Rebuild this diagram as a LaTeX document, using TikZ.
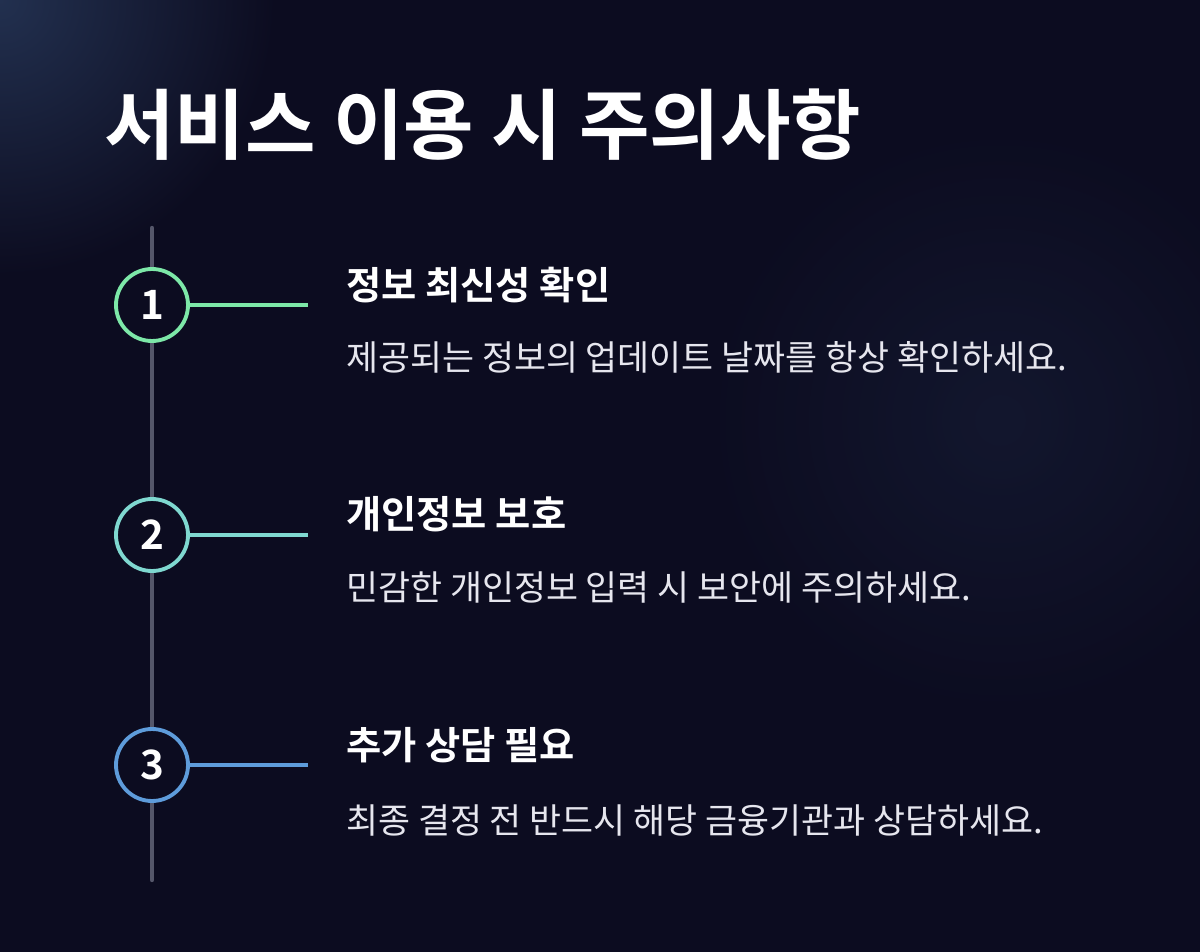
\documentclass[tikz,border=0pt]{standalone}
\usepackage{fontspec}
\setmainfont{Noto Sans CJK KR}
\newfontfamily\krbold{Noto Sans CJK KR Bold}
\usetikzlibrary{positioning}
\definecolor{bgdark}{HTML}{0C0C20}
\definecolor{bglight}{HTML}{22304F}
\definecolor{railgray}{HTML}{55576A}
\definecolor{stepgreen}{HTML}{7DE8A8}
\definecolor{stepteal}{HTML}{7FD8D0}
\definecolor{stepblue}{HTML}{5E9CDB}
\definecolor{desctext}{HTML}{E6E6EE}
\begin{document}
\begin{tikzpicture}[x=0.02cm, y=-0.02cm,
  stepcircle/.style = {circle, draw, line width=2.2pt, minimum size=72*0.02cm,
    inner sep=0pt, text=white, font=\krbold\fontsize{23}{26}\selectfont},
  stepline/.style = {line width=2pt},
  heading/.style = {anchor=west, text=white, font=\krbold\fontsize{21.8}{26}\selectfont},
  desc/.style = {anchor=west, text=desctext, font=\fontsize{19.8}{23}\selectfont}
]
  % background
  \useasboundingbox (0,0) rectangle (1200,952);
  \clip (0,0) rectangle (1200,952);
  \fill[bgdark] (0,0) rectangle (1200,952);
  \shade[inner color=bglight, outer color=bgdark] (0,0) circle (5.5cm);
  \shade[inner color=bglight!50!bgdark, outer color=bgdark, opacity=0.6] (1000,420) circle (6cm);

  % title
  \node[anchor=west, text=white, font=\krbold\fontsize{43.6}{50}\selectfont] (title) at (98,125) {서비스 이용 시 주의사항};

  % rail
  \coordinate (railtop) at (152,228);
  \coordinate (railbot) at (152,880);
  \draw[railgray, line width=2.5pt, line cap=round] (railtop) -- (railbot);

  % steps
  \node[stepcircle, draw=stepgreen, fill=bgdark] (one) at (152,305) {1};
  \node[stepcircle, draw=stepteal, fill=bgdark] (two) at (152,535) {2};
  \node[stepcircle, draw=stepblue, fill=bgdark] (three) at (152,765) {3};

  \coordinate (oneend) at (308,305);
  \coordinate (twoend) at (308,535);
  \coordinate (threeend) at (308,765);
  \draw[stepline, stepgreen] (one.east) -- (oneend);
  \draw[stepline, stepteal] (two.east) -- (twoend);
  \draw[stepline, stepblue] (three.east) -- (threeend);

  \node[heading] (onehead) at (340,285) {정보 최신성 확인};
  \node[desc] (onedesc) at (340,357) {제공되는 정보의 업데이트 날짜를 항상 확인하세요.};
  \node[heading] (twohead) at (340,514) {개인정보 보호};
  \node[desc] (twodesc) at (340,587) {민감한 개인정보 입력 시 보안에 주의하세요.};
  \node[heading] (threehead) at (340,745) {추가 상담 필요};
  \node[desc] (threedesc) at (340,820) {최종 결정 전 반드시 해당 금융기관과 상담하세요.};
\end{tikzpicture}
\end{document}
